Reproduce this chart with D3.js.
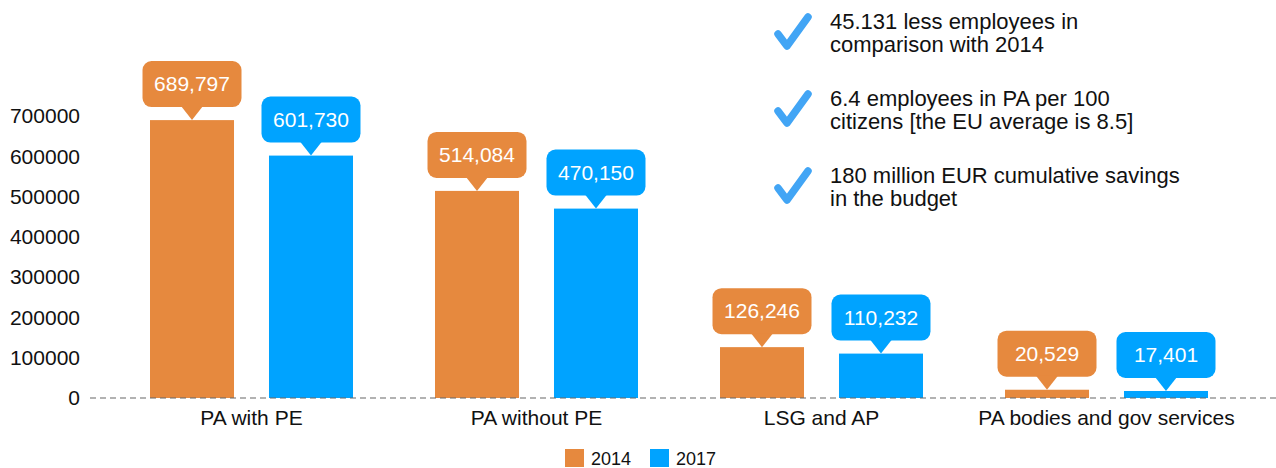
<!DOCTYPE html>
<html>
<head>
  <meta charset="utf-8">
  <script src="https://d3js.org/d3.v7.min.js"></script>
  <style>
    body { margin: 0; background: #fff; }
    svg text { font-family: "Liberation Sans", Arial, sans-serif; }
    .y.axis .domain { stroke: none; }
  </style>
</head>
<body>
  <svg id="chart" width="1276" height="468"></svg>
  <script>
    // data
    const categories = ['PA with PE', 'PA without PE', 'LSG and AP', 'PA bodies and gov services'];
    const years = ['2014', '2017'];
    const values2014 = [689797, 514084, 126246, 20529];
    const values2017 = [601730, 470150, 110232, 17401];
    const yTicks = [0, 100000, 200000, 300000, 400000, 500000, 600000, 700000];
    const notes = [
      ['45.131 less employees in', 'comparison with 2014'],
      ['6.4 employees in PA per 100', 'citizens [the EU average is 8.5]'],
      ['180 million EUR cumulative savings', 'in the budget']
    ];

    const colors = { '2014': '#e6893e', '2017': '#00a3ff' };

    const svg = d3.select('svg#chart');

    // scales
    const yScale = d3.scaleLinear().domain([0, 700000]).range([398, 116]);
    const xScale = d3.scaleBand().domain(categories).range([109, 1249]);
    const inner = d3.scaleBand().domain(years)
      .range([41, 244]).paddingInner(0.294);

    // y axis, labels only
    const leftAxis = d3.axisLeft(yScale).tickValues(yTicks).tickSize(0).tickPadding(8)
      .tickFormat(d3.format('d'));
    const yAxis = svg.append('g')
      .attr('class', 'y axis')
      .attr('transform', 'translate(88,0)')
      .call(leftAxis);
    yAxis.selectAll('text')
      .attr('font-size', 21)
      .attr('fill', '#111')
      .style('font-family', '"Liberation Sans", Arial, sans-serif');

    // bars + callouts
    const rows = [];
    categories.forEach((c, i) => {
      rows.push({ cat: c, year: '2014', value: values2014[i] });
      rows.push({ cat: c, year: '2017', value: values2017[i] });
    });

    const fmt = d3.format(',');
    const boxW = 99, boxH = 46, tipH = 13;

    rows.forEach(d => {
      const x0 = xScale(d.cat) + inner(d.year);
      const w = inner.bandwidth();
      const top = yScale(d.value);
      const cx = x0 + w / 2;

      svg.append('rect')
        .attr('x', x0)
        .attr('y', top)
        .attr('width', w)
        .attr('height', yScale(0) - top)
        .attr('fill', colors[d.year]);

      const boxBottom = top - tipH;
      svg.append('rect')
        .attr('x', cx - boxW / 2)
        .attr('y', boxBottom - boxH)
        .attr('width', boxW)
        .attr('height', boxH)
        .attr('rx', 9)
        .attr('fill', colors[d.year]);

      svg.append('path')
        .attr('d', `M${cx - 11},${boxBottom - 1} L${cx + 11},${boxBottom - 1} L${cx},${top}Z`)
        .attr('fill', colors[d.year]);

      svg.append('text')
        .attr('x', cx)
        .attr('y', boxBottom - boxH / 2 + 7)
        .attr('text-anchor', 'middle')
        .attr('font-size', 21)
        .attr('fill', '#fff')
        .text(fmt(d.value));
    });

    // dashed zero line
    svg.append('line')
      .attr('x1', 90).attr('x2', 1276)
      .attr('y1', yScale(0)).attr('y2', yScale(0))
      .attr('stroke', '#666')
      .attr('stroke-width', 1.2)
      .attr('stroke-dasharray', '6,4');

    // category labels
    categories.forEach(c => {
      svg.append('text')
        .attr('x', xScale(c) + xScale.bandwidth() / 2)
        .attr('y', 425)
        .attr('text-anchor', 'middle')
        .attr('font-size', 21)
        .attr('fill', '#111')
        .text(c);
    });

    // legend
    const legendX = [565, 650];
    years.forEach((yr, i) => {
      svg.append('rect')
        .attr('x', legendX[i]).attr('y', 449)
        .attr('width', 19).attr('height', 18)
        .attr('fill', colors[yr]);
      svg.append('text')
        .attr('x', legendX[i] + 26).attr('y', 465)
        .attr('font-size', 18)
        .attr('fill', '#111')
        .text(yr);
    });

    // notes with check marks
    notes.forEach((lines, i) => {
      const oy = i * 77;
      svg.append('path')
        .attr('d', `M778,${34 + oy} L787,${46 + oy} L808,${17 + oy}`)
        .attr('fill', 'none')
        .attr('stroke', '#42a5f5')
        .attr('stroke-width', 7.5)
        .attr('stroke-linecap', 'round')
        .attr('stroke-linejoin', 'round');
      lines.forEach((t, j) => {
        svg.append('text')
          .attr('x', 830)
          .attr('y', 29 + oy + j * 23)
          .attr('font-size', 22)
          .attr('fill', '#111')
          .text(t);
      });
    });
  </script>
</body>
</html>
